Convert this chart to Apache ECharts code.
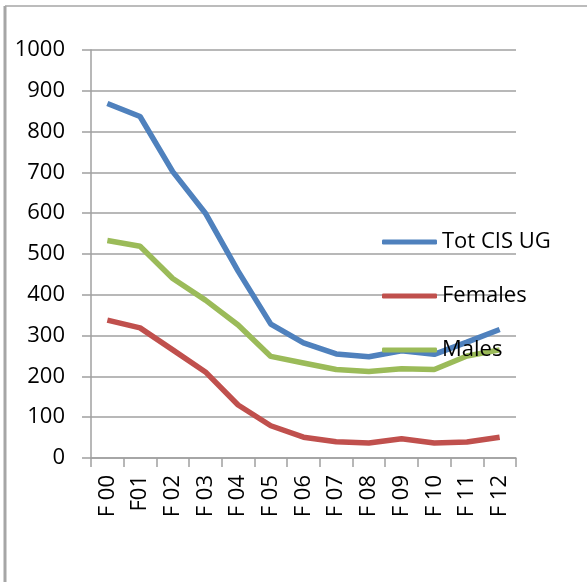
<!DOCTYPE html>
<html>
<head>
<meta charset="utf-8">
<script src="https://cdn.jsdelivr.net/npm/echarts@6/dist/echarts.min.js"></script>
<style>html,body{margin:0;padding:0;background:#fff}#c{width:587px;height:582px}</style>
</head>
<body>
<div id="c"></div>
<script>
var categories = ['F 00','F01','F 02','F 03','F 04','F 05','F 06','F 07','F 08','F 09','F 10','F 11','F 12'];
var totCisUg = [869, 837, 702, 600, 458, 328, 282, 255, 248, 263, 254, 284, 315];
var females = [338, 319, 265, 211, 130, 79, 51, 40, 37, 47, 37, 39, 51];
var males = [533, 519, 440, 387, 326, 249, 233, 217, 212, 219, 217, 250, 265];
var yTicks = [0, 100, 200, 300, 400, 500, 600, 700, 800, 900, 1000];

var font = '"Open Sans", "Liberation Sans", sans-serif';
var chart = echarts.init(document.getElementById('c'), null, {renderer: 'canvas'});
chart.setOption({
  animation: false,
  backgroundColor: '#fff',
  graphic: [
    {type: 'line', shape: {x1: 5, y1: 6, x2: 587, y2: 6}, style: {stroke: '#a6a6a6', lineWidth: 1.5}},
    {type: 'line', shape: {x1: 5, y1: 6, x2: 5, y2: 582}, style: {stroke: '#a6a6a6', lineWidth: 3}}
  ],
  grid: {left: 91, right: 71, top: 50, bottom: 124, containLabel: false},
  legend: {
    orient: 'vertical',
    left: 382,
    top: 231,
    padding: 0,
    itemWidth: 55,
    itemHeight: 5,
    itemGap: 32,
    icon: 'roundRect',
    textStyle: {fontFamily: font, fontSize: 22, color: '#000'},
    data: ['Tot CIS UG', 'Females', 'Males']
  },
  xAxis: {
    type: 'category',
    data: categories,
    boundaryGap: true,
    axisLine: {show: true, lineStyle: {color: '#a0a0a0', width: 1.5}},
    axisTick: {show: true, length: 9, alignWithLabel: false, lineStyle: {color: '#a0a0a0', width: 1.5}},
    axisLabel: {rotate: 90, margin: 17, fontFamily: font, fontSize: 22, color: '#000', interval: 0}
  },
  yAxis: {
    type: 'value',
    min: yTicks[0],
    max: yTicks[yTicks.length - 1],
    interval: 100,
    axisLine: {show: true, lineStyle: {color: '#a0a0a0', width: 1.5}},
    axisTick: {show: true, length: 9, lineStyle: {color: '#a0a0a0', width: 1.5}},
    axisLabel: {margin: 26, fontFamily: font, fontSize: 22, color: '#000', formatter: function (v) { return String(v); }},
    splitLine: {show: true, lineStyle: {color: '#a0a0a0', width: 1.5}}
  },
  series: [
    {name: 'Tot CIS UG', type: 'line', data: totCisUg, symbol: 'none', lineStyle: {width: 5.5, color: '#4f81bd'}, itemStyle: {color: '#4f81bd'}},
    {name: 'Females', type: 'line', data: females, symbol: 'none', lineStyle: {width: 5.5, color: '#c0504d'}, itemStyle: {color: '#c0504d'}},
    {name: 'Males', type: 'line', data: males, symbol: 'none', lineStyle: {width: 5.5, color: '#9bbb59'}, itemStyle: {color: '#9bbb59'}}
  ]
});
</script>
</body>
</html>
